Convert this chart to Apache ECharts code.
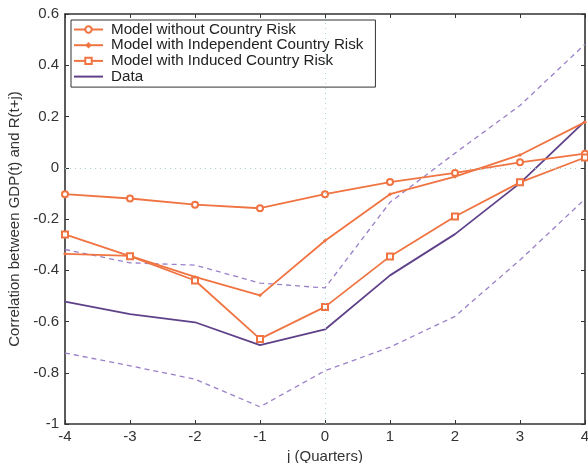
<!DOCTYPE html>
<html>
<head>
<meta charset="utf-8">
<script src="https://cdn.jsdelivr.net/npm/echarts@6/dist/echarts.min.js"></script>
<style>html,body{margin:0;padding:0;background:#fff;}#c{width:588px;height:463px;}</style>
</head>
<body>
<div id="c"></div>
<script>
var quarters = [-4, -3, -2, -1, 0, 1, 2, 3, 4];
var noRisk = [-0.103, -0.120, -0.144, -0.158, -0.103, -0.056, -0.020, 0.021, 0.055];
var independentRisk = [-0.336, -0.344, -0.426, -0.498, -0.285, -0.103, -0.035, 0.050, 0.178];
var inducedRisk = [-0.260, -0.345, -0.440, -0.668, -0.543, -0.346, -0.190, -0.057, 0.040];
var dataSeries = [-0.522, -0.571, -0.603, -0.692, -0.631, -0.420, -0.259, -0.060, 0.182];
var upperBand = [-0.319, -0.371, -0.380, -0.450, -0.469, -0.135, 0.057, 0.243, 0.482];
var lowerBand = [-0.723, -0.773, -0.825, -0.933, -0.792, -0.700, -0.580, -0.360, -0.122];
var seriesNames = ['Model without Country Risk', 'Model with Independent Country Risk', 'Model with Induced Country Risk', 'Data'];

function pairs(ys) { return quarters.map(function (q, i) { return [q, ys[i]]; }); }

var orange = '#f07442';
var purple = '#5f4189';
var lightPurple = '#9a80c8';
var axisColor = '#333';
var font = 'Liberation Sans, Arial, sans-serif';

var chart = echarts.init(document.getElementById('c'), null, {renderer: 'canvas'});
chart.setOption({
  animation: false,
  backgroundColor: '#fff',
  grid: {left: 65, right: 3, top: 14, bottom: 39, containLabel: false, outerBoundsMode: 'none'},
  legend: {
    orient: 'vertical', left: 71, top: 20,
    data: [seriesNames[0], seriesNames[1], seriesNames[2],
      {name: seriesNames[3], icon: 'path://M0,0h29v2h-29z'}],
    symbolKeepAspect: true,
    backgroundColor: '#fff', borderColor: '#333', borderWidth: 1,
    padding: [2, 12, 3, 2],
    itemWidth: 29, itemHeight: 8, itemGap: 0.7,
    textStyle: {fontFamily: font, fontSize: 15.2, lineHeight: 15, color: '#222', padding: [0, 0, 0, 3]}
  },
  xAxis: [{
    type: 'value', min: -4, max: 4, interval: 1,
    name: 'j (Quarters)', nameLocation: 'middle', nameGap: 22,
    nameTextStyle: {fontFamily: font, fontSize: 15, color: '#333'},
    axisLine: {onZero: false, lineStyle: {color: axisColor, width: 1.6}},
    axisTick: {inside: true, length: 4, lineStyle: {color: axisColor}},
    axisLabel: {fontFamily: font, fontSize: 15, color: '#333', margin: 5},
    splitLine: {show: false}
  }, {
    type: 'value', min: -4, max: 4, interval: 1, position: 'top',
    axisLine: {onZero: false, lineStyle: {color: axisColor, width: 1.6}},
    axisTick: {inside: true, length: 4, lineStyle: {color: axisColor}},
    axisLabel: {show: false}, splitLine: {show: false}
  }],
  yAxis: [{
    type: 'value', min: -1, max: 0.6, interval: 0.2,
    name: 'Correlation between GDP(t) and R(t+j)', nameLocation: 'middle', nameGap: 36,
    nameTextStyle: {fontFamily: font, fontSize: 15, color: '#333'},
    axisLine: {show: true, onZero: false, lineStyle: {color: axisColor, width: 1.6}},
    axisTick: {show: true, inside: true, length: 4, lineStyle: {color: axisColor}},
    axisLabel: {fontFamily: font, fontSize: 15, color: '#333', margin: 6,
      formatter: function (v) { return String(Math.round(v * 10) / 10); }},
    splitLine: {show: false}
  }, {
    type: 'value', min: -1, max: 0.6, interval: 0.2, position: 'right',
    axisLine: {show: true, onZero: false, lineStyle: {color: axisColor, width: 1.6}},
    axisTick: {show: true, inside: true, length: 4, lineStyle: {color: axisColor}},
    axisLabel: {show: false}, splitLine: {show: false}
  }],
  series: [
    {
      name: 'zero', type: 'line', data: [], silent: true,
      markLine: {
        silent: true, symbol: 'none', label: {show: false},
        lineStyle: {color: '#a9d2d2', type: [1, 4], width: 1},
        data: [{xAxis: 0}, {yAxis: 0}]
      }
    },
    {
      name: 'upper', type: 'line', data: pairs(upperBand), symbol: 'none',
      lineStyle: {color: lightPurple, width: 1.3, type: [5, 4]}, z: 2
    },
    {
      name: 'lower', type: 'line', data: pairs(lowerBand), symbol: 'none',
      lineStyle: {color: lightPurple, width: 1.3, type: [5, 4]}, z: 2
    },
    {
      name: seriesNames[3], type: 'line', data: pairs(dataSeries), symbol: 'none',
      color: purple, lineStyle: {color: purple, width: 1.8}, z: 3
    },
    {
      name: seriesNames[0], type: 'line', data: pairs(noRisk),
      symbol: 'emptyCircle', symbolSize: 6, color: orange,
      itemStyle: {color: orange, borderColor: orange, borderWidth: 1.5},
      lineStyle: {color: orange, width: 1.8}, z: 4
    },
    {
      name: seriesNames[1], type: 'line', data: pairs(independentRisk),
      symbol: 'diamond', symbolSize: 4, color: orange,
      itemStyle: {color: orange},
      lineStyle: {color: orange, width: 1.8}, z: 4
    },
    {
      name: seriesNames[2], type: 'line', data: pairs(inducedRisk),
      symbol: 'emptyRect', symbolSize: 6, color: orange,
      itemStyle: {color: orange, borderColor: orange, borderWidth: 1.5},
      lineStyle: {color: orange, width: 1.8}, z: 4
    }
  ]
});
</script>
</body>
</html>
